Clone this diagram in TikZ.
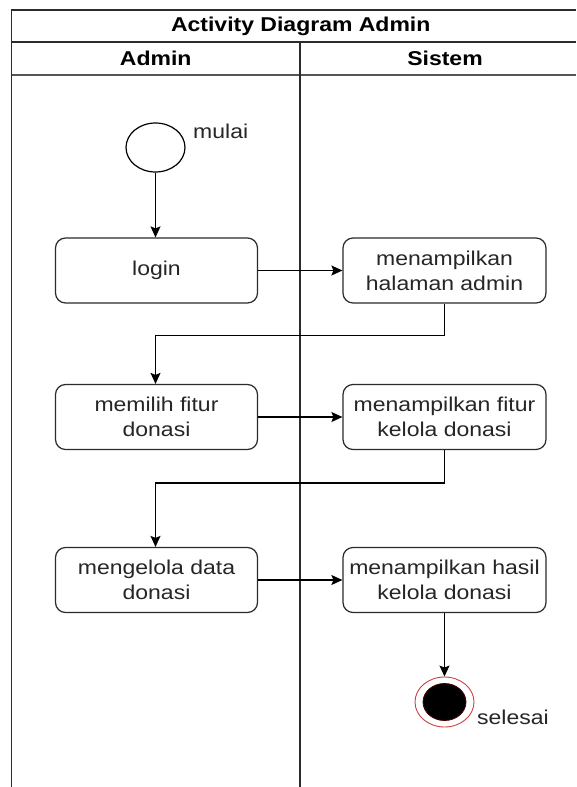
\documentclass[tikz,border=0pt]{standalone}
\usepackage{fontspec}
\setmainfont{Liberation Sans}[FakeStretch=1.15]
\usetikzlibrary{arrows.meta,calc,shapes.geometric}
\definecolor{txt}{HTML}{262626}
\definecolor{frame}{HTML}{2B2B2B}
\definecolor{ringred}{HTML}{D04040}
\tikzset{
  actbox/.style={draw=frame, line width=1.2pt, rounded corners=10pt, minimum width=202pt,
    minimum height=65pt, inner sep=0pt, align=center, text=txt,
    font=\fontsize{20}{25}\selectfont},
  flow/.style={draw=black, line width=1.3pt, -{Stealth[length=11pt,width=10pt,inset=2pt]}},
  lane/.style={draw=frame, line width=1.4pt},
  head/.style={font=\fontsize{20}{25}\selectfont\bfseries, text=black, inner sep=0pt},
  lbl/.style={font=\fontsize{20}{25}\selectfont, text=txt, inner sep=0pt}
}
\begin{document}
\begin{tikzpicture}[x=1pt,y=-1pt]
\useasboundingbox (0,0) rectangle (576,787);
\fill[white] (0,0) rectangle (576,787);
% swimlane frame
\draw[lane] (11.5,787) -- (11.5,10) -- (576,10);
\draw[lane] (11.5,42) -- (576,42);
\draw[lane, draw=frame!80, line width=1.8pt] (11.5,75) -- (576,75);
\draw[lane] (300,42) -- (300,787);
\node[head] (title) at (300.75,26) {Activity Diagram Admin};
\node[head] (hadmin) at (155.75,58.5) {Admin};
\node[head] (hsistem) at (445,58.5) {Sistem};
% start
\node[draw=black, line width=1.2pt, ellipse, minimum width=59pt, minimum height=49pt, inner sep=0pt] (start) at (155.5,147.5) {};
\node[lbl, anchor=west] (mulai) at (193,131) {mulai};
% activities
\node[actbox] (login) at (156.5,270.5) {login};
\node[actbox, minimum width=203pt] (halaman) at (444.5,270.5) {menampilkan\\halaman admin};
\node[actbox] (memilih) at (156.5,417) {memilih fitur\\donasi};
\node[actbox, minimum width=203pt] (fitur) at (444.5,417) {menampilkan fitur\\kelola donasi};
\node[actbox] (kelola) at (156.5,580) {mengelola data\\donasi};
\node[actbox, minimum width=203pt] (hasil) at (444.5,580) {menampilkan hasil\\kelola donasi};
% end
\node[draw=ringred, line width=0.9pt, ellipse, minimum width=59pt, minimum height=50pt, inner sep=0pt] (end) at (444.5,702) {};
\fill[black, draw=black!70!red, line width=0.8pt] (end.center) ellipse [x radius=21.5pt, y radius=18.5pt];
\node[lbl, anchor=west] (selesai) at (477,717) {selesai};
% connectors
\draw[flow] (start.south) -- (start.south |- login.north);
\draw[flow] (login.east) -- (halaman.west);
\draw[flow] (halaman.south) -- ++(0,32) -| (start.south |- memilih.north);
\draw[flow] (memilih.east) -- (fitur.west);
\draw[flow] (fitur.south) -- ++(0,33) -| (start.south |- kelola.north);
\draw[flow] (kelola.east) -- (hasil.west);
\draw[flow] (hasil.south) -- (end.north);
\end{tikzpicture}
\end{document}
